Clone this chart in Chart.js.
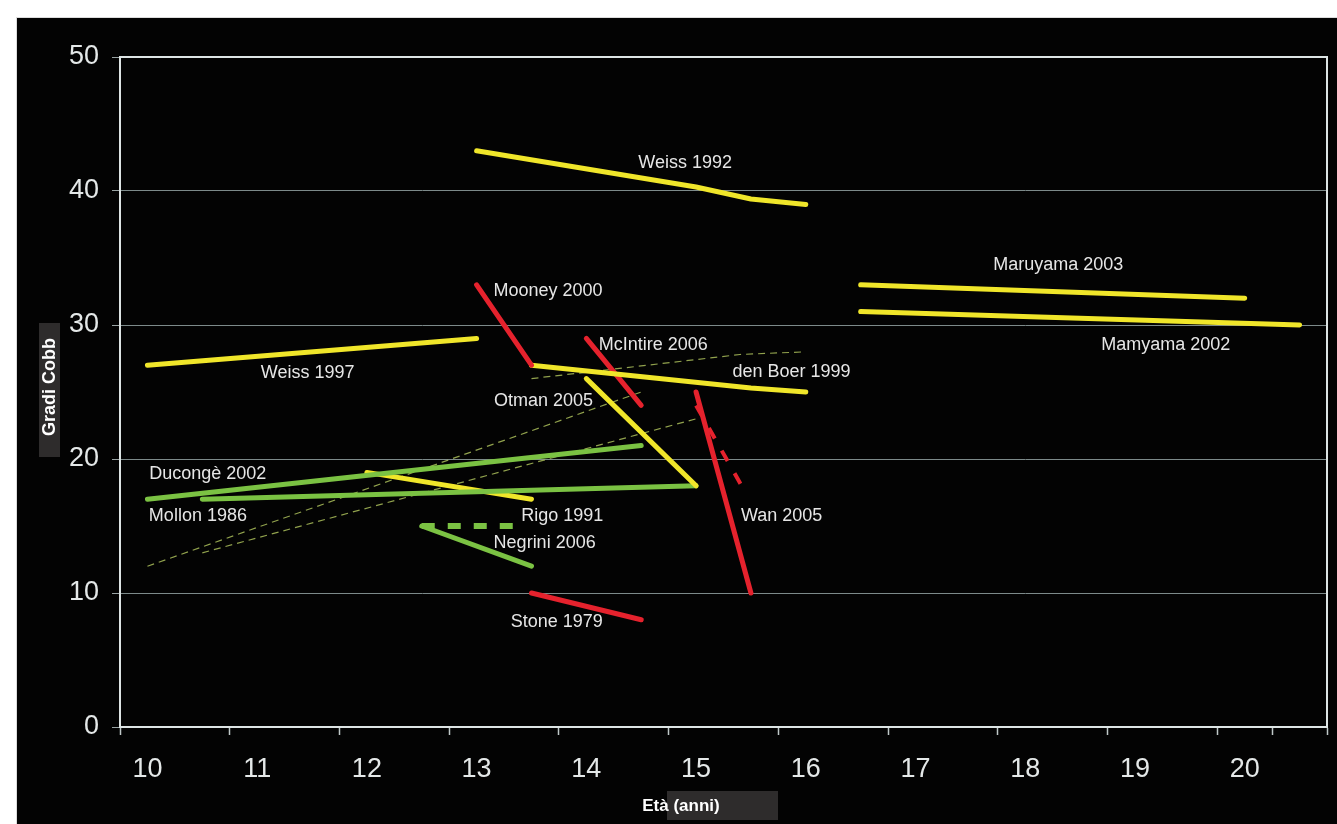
<!DOCTYPE html>
<html>
<head>
<meta charset="utf-8">
<script src="https://cdn.jsdelivr.net/npm/chart.js@4.4.1/dist/chart.umd.min.js"></script>
<style>
  html, body { margin: 0; padding: 0; background: #fff; }
  #wrap { position: relative; width: 1337px; height: 824px; }
</style>
</head>
<body>
<div id="wrap"><canvas id="myChart"></canvas></div>
<script>
// studies: [age, Cobb degrees]
const weiss1992 = [[13, 43], [15, 40.3], [15.5, 39.4], [16, 39]];
const maruyama2003 = [[16.5, 33], [20, 32]];
const mamyama2002 = [[16.5, 31], [20.5, 30]];
const weiss1997 = [[10, 27], [13, 29]];
const mooney2000 = [[13, 33], [13.5, 27]];
const denBoer1999 = [[13.5, 27], [15.5, 25.3], [16, 25]];
const mcintire2006 = [[14, 29], [14.5, 24]];
const otman2005 = [[14, 26], [15, 18]];
const mollon1986 = [[10.5, 17], [15, 18]];
const duconge2002 = [[10, 17], [14.5, 21]];
const rigo1991 = [[12, 19], [13.5, 17]];
const negrini2006 = [[12.5, 15], [13.5, 12]];
const negrini2006b = [[12.5, 15], [13.4, 15]];
const stone1979 = [[13.5, 10], [14.5, 8]];
const wan2005 = [[15, 25], [15.5, 10]];
const wan2005b = [[15, 24], [15.45, 17.5]];
const trendA = [[10, 12], [14.5, 25]];
const trendB = [[10.5, 13], [15, 23]];
const trendC = [[13.5, 26], [15.4, 27.8], [16, 28]];

const xTickLabels = [10, 11, 12, 13, 14, 15, 16, 17, 18, 19, 20];
const yTicks = [0, 10, 20, 30, 40, 50];

// study labels placed at [age, degrees]
const studyLabels = [
  ['Weiss 1992', 14.9, 42.1],
  ['Maruyama 2003', 18.3, 34.5],
  ['Mamyama 2002', 19.28, 28.5],
  ['Mooney 2000', 13.65, 32.5],
  ['McIntire 2006', 14.61, 28.5],
  ['Weiss 1997', 11.46, 26.4],
  ['den Boer 1999', 15.87, 26.5],
  ['Otman 2005', 13.61, 24.3],
  ['Ducongè 2002', 10.55, 18.9],
  ['Mollon 1986', 10.46, 15.75],
  ['Rigo 1991', 13.78, 15.75],
  ['Wan 2005', 15.78, 15.75],
  ['Negrini 2006', 13.62, 13.7],
  ['Stone 1979', 13.73, 7.8],
];

const YELLOW = '#f0e62a';
const RED = '#e5222d';
const GREEN = '#7bc243';
const FONT = '"Liberation Sans", Arial, sans-serif';

const pts = arr => arr.map(p => ({ x: p[0], y: p[1] }));
const line = (label, arr, color, extra) => Object.assign({
  label: label,
  data: pts(arr),
  showLine: true,
  borderColor: color,
  backgroundColor: color,
  borderWidth: 5,
  pointRadius: 0,
  borderCapStyle: 'round',
  borderJoinStyle: 'round',
  order: 1,
}, extra || {});

const thinDash = { borderWidth: 1.2, borderDash: [7, 5], borderCapStyle: 'butt', order: 5 };
const TREND = 'rgba(170,190,90,0.85)';

const data = {
  datasets: [
    line('trend A', trendA, TREND, thinDash),
    line('trend B', trendB, TREND, thinDash),
    line('trend C', trendC, TREND, thinDash),
    line('Weiss 1992', weiss1992, YELLOW),
    line('Maruyama 2003', maruyama2003, YELLOW),
    line('Mamyama 2002', mamyama2002, YELLOW),
    line('Weiss 1997', weiss1997, YELLOW),
    line('Mooney 2000', mooney2000, RED),
    line('den Boer 1999', denBoer1999, YELLOW),
    line('McIntire 2006', mcintire2006, RED),
    line('Otman 2005', otman2005, YELLOW),
    line('Mollon 1986', mollon1986, GREEN),
    line('Ducongè 2002', duconge2002, GREEN),
    line('Rigo 1991', rigo1991, YELLOW),
    line('Negrini 2006', negrini2006, GREEN),
    line('Negrini 2006 b', negrini2006b, GREEN, { borderDash: [13, 13], borderCapStyle: 'butt', borderWidth: 6 }),
    line('Stone 1979', stone1979, RED),
    line('Wan 2005', wan2005, RED),
    line('Wan 2005 b', wan2005b, RED, { borderDash: [12, 14], borderCapStyle: 'butt', borderWidth: 4 }),
  ],
};

const backdrop = {
  id: 'backdrop',
  beforeDraw(chart) {
    const { ctx, width, height } = chart;
    ctx.save();
    ctx.fillStyle = '#ffffff';
    ctx.fillRect(0, 0, width, height);
    ctx.fillStyle = '#dcdcdc';
    ctx.fillRect(16, 17, width - 16, height - 17);
    ctx.fillStyle = '#030303';
    ctx.fillRect(17, 18, width - 17, height - 18);
    ctx.restore();
  },
  afterDraw(chart) {
    const { ctx, chartArea: { left, top, right, bottom }, scales: { x, y } } = chart;
    ctx.save();
    // frame top and right
    ctx.strokeStyle = '#dde4e4';
    ctx.lineWidth = 2;
    ctx.beginPath();
    ctx.moveTo(left, top);
    ctx.lineTo(right, top);
    ctx.lineTo(right, bottom);
    ctx.stroke();

    // study labels
    ctx.fillStyle = '#e6e6e6';
    ctx.font = '18px ' + FONT;
    ctx.textAlign = 'center';
    ctx.textBaseline = 'middle';
    studyLabels.forEach(([t, ax, ay]) => {
      ctx.fillText(t, x.getPixelForValue(ax), y.getPixelForValue(ay));
    });

    // axis titles with dark boxes
    ctx.fillStyle = '#2e2c2c';
    ctx.fillRect(39, 323, 21, 134);
    ctx.fillRect(667, 791, 111, 29);
    ctx.fillStyle = '#ffffff';
    ctx.font = 'bold 17px ' + FONT;
    ctx.textAlign = 'center';
    ctx.textBaseline = 'middle';
    ctx.fillText('Età (anni)', 681, 806);
    ctx.translate(50, 387);
    ctx.rotate(-Math.PI / 2);
    ctx.font = 'bold 18px ' + FONT;
    ctx.fillText('Gradi Cobb', 0, 0);
    ctx.restore();
  },
};

const config = {
  type: 'scatter',
  data: data,
  options: {
    responsive: true,
    maintainAspectRatio: false,
    animation: false,
    layout: { padding: { top: 57, right: 10, left: 0, bottom: 0 } },
    plugins: { legend: { display: false }, tooltip: { enabled: false } },
    scales: {
      x: {
        type: 'linear',
        min: 9.75,
        max: 20.75,
        afterBuildTicks(scale) {
          // end tick listed first so the label padding does not shrink the plot area
          const t = [{ value: 20.75 }];
          xTickLabels.forEach(v => { t.push({ value: v - 0.25 }, { value: v }); });
          t.push({ value: 20.25 });
          scale.ticks = t;
        },
        afterFit(scale) { scale.height = 97; },
        ticks: {
          autoSkip: false,
          maxRotation: 0,
          minRotation: 0,
          padding: 18,
          color: '#e4e8e8',
          font: { family: FONT, size: 27 },
          callback: v => (xTickLabels.includes(v) ? String(v) : ''),
        },
        grid: {
          drawOnChartArea: false,
          tickLength: 8,
          tickColor: c => (c.tick && Number.isInteger(c.tick.value) ? 'rgba(0,0,0,0)' : '#bfc8c8'),
          tickWidth: 1.5,
        },
        border: { color: '#dde4e4', width: 2 },
      },
      y: {
        min: 0,
        max: 50,
        afterBuildTicks(scale) { scale.ticks = yTicks.map(v => ({ value: v })); },
        afterFit(scale) { scale.width = 120; },
        ticks: {
          padding: 13,
          color: '#e4e8e8',
          font: { family: FONT, size: 27 },
        },
        grid: {
          color: c => (c.tick && c.tick.value === 50 ? '#dde4e4' : '#7d8a8a'),
          lineWidth: 1,
          tickLength: 8,
          tickColor: '#9aa4a4',
        },
        border: { color: '#dde4e4', width: 2 },
      },
    },
  },
  plugins: [backdrop],
};

const ctx = document.getElementById('myChart');
new Chart(ctx, config);
</script>
</body>
</html>
